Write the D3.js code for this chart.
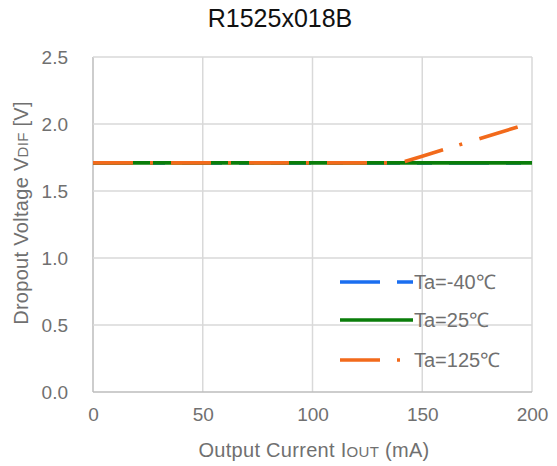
<!DOCTYPE html>
<html><head><meta charset="utf-8">
<script src="https://cdn.jsdelivr.net/npm/d3@7"></script>
<style>body{margin:0;background:#fff}svg{display:block}text{font-family:"Liberation Sans",Arial,sans-serif}</style>
</head><body><svg id="c" width="557" height="466"></svg>
<script>
const title = "R1525x018B";
const current = [0, 50, 100, 140, 150, 200];
const ta40 = [1.71, 1.71, 1.71, 1.71, 1.71, 1.71];
const ta25 = [1.71, 1.71, 1.71, 1.71, 1.71, 1.71];
const ta125 = [1.71, 1.71, 1.71, 1.71, 1.76, 2.01];
const xTicks = [0, 50, 100, 150, 200];
const yTicks = [0.0, 0.5, 1.0, 1.5, 2.0, 2.5];
const seriesNames = ["Ta=-40\u2103", "Ta=25\u2103", "Ta=125\u2103"];

const svg = d3.select("#c");
const x = d3.scaleLinear().domain([0, 200]).range([93, 532]);
const y = d3.scaleLinear().domain([0, 2.5]).range([392, 57]);
const grey = "#707070";

// grid
const g = svg.append("g");
g.selectAll(".gx").data(xTicks).join("line")
  .attr("x1", d => x(d)).attr("x2", d => x(d)).attr("y1", y(0)).attr("y2", y(2.5))
  .attr("stroke", d => d === 0 ? "#bdbdbd" : "#d9d9d9").attr("stroke-width", 1.5);
g.selectAll(".gy").data(yTicks).join("line")
  .attr("x1", x(0)).attr("x2", x(200)).attr("y1", d => y(d)).attr("y2", d => y(d))
  .attr("stroke", d => d === 0 ? "#bdbdbd" : "#d9d9d9").attr("stroke-width", 1.5);

// axes
const xa = svg.append("g").attr("transform", `translate(0,${y(0)})`)
  .call(d3.axisBottom(x).tickValues(xTicks).tickSize(0).tickPadding(16).tickFormat(d3.format("d")));
const ya = svg.append("g").attr("transform", `translate(${x(0)},0)`)
  .call(d3.axisLeft(y).tickValues(yTicks).tickSize(0).tickPadding(25).tickFormat(d3.format(".1f")));
[xa, ya].forEach(a => {
  a.select(".domain").remove();
  a.selectAll("text").attr("font-size", 19).attr("fill", grey).attr("font-family", "Liberation Sans, Arial, sans-serif");
});

// lines
const data = [
  {vals: ta40, color: "#1a6ef0", dash: "40,17,15,17"},
  {vals: ta25, color: "#0a7d0a", dash: null},
  {vals: ta125, color: "#f26a1b", dash: "40,17,3,18"}
];
const line = d3.line().x(d => x(d[0])).y(d => y(d[1]));
data.forEach(s => {
  svg.append("path").datum(current.map((c, i) => [c, s.vals[i]]))
    .attr("d", line).attr("fill", "none").attr("stroke", s.color)
    .attr("stroke-width", 3.6).attr("stroke-dasharray", s.dash);
});

// legend
const legY = [282, 320, 360];
const legDash = ["40,17,16,40", null, "40,17,3,40"];
data.forEach((s, i) => {
  svg.append("line").attr("x1", 340).attr("x2", 413).attr("y1", legY[i]).attr("y2", legY[i])
    .attr("stroke", s.color).attr("stroke-width", 3.6).attr("stroke-dasharray", legDash[i]);
  svg.append("text").attr("x", 414).attr("y", legY[i] + 7).attr("font-size", 20)
    .attr("fill", grey).text(seriesNames[i]);
});

// title
svg.append("text").attr("x", 280).attr("y", 27).attr("text-anchor", "middle")
  .attr("font-size", 25).attr("fill", "#111").text(title);

// x title
const xt = svg.append("text").attr("x", 314).attr("y", 457).attr("text-anchor", "middle")
  .attr("font-size", 20).attr("fill", grey).attr("letter-spacing", 0.3);
xt.append("tspan").text("Output  Current I");
xt.append("tspan").attr("font-size", 15).text("OUT");
xt.append("tspan").text(" (mA)");

// y title
const yt = svg.append("text").attr("transform", "translate(28,213) rotate(-90)")
  .attr("text-anchor", "middle").attr("font-size", 20).attr("fill", grey).attr("letter-spacing", 0.3);
yt.append("tspan").text("Dropout Voltage V");
yt.append("tspan").attr("font-size", 15).text("DIF");
yt.append("tspan").text(" [V]");
</script></body></html>
